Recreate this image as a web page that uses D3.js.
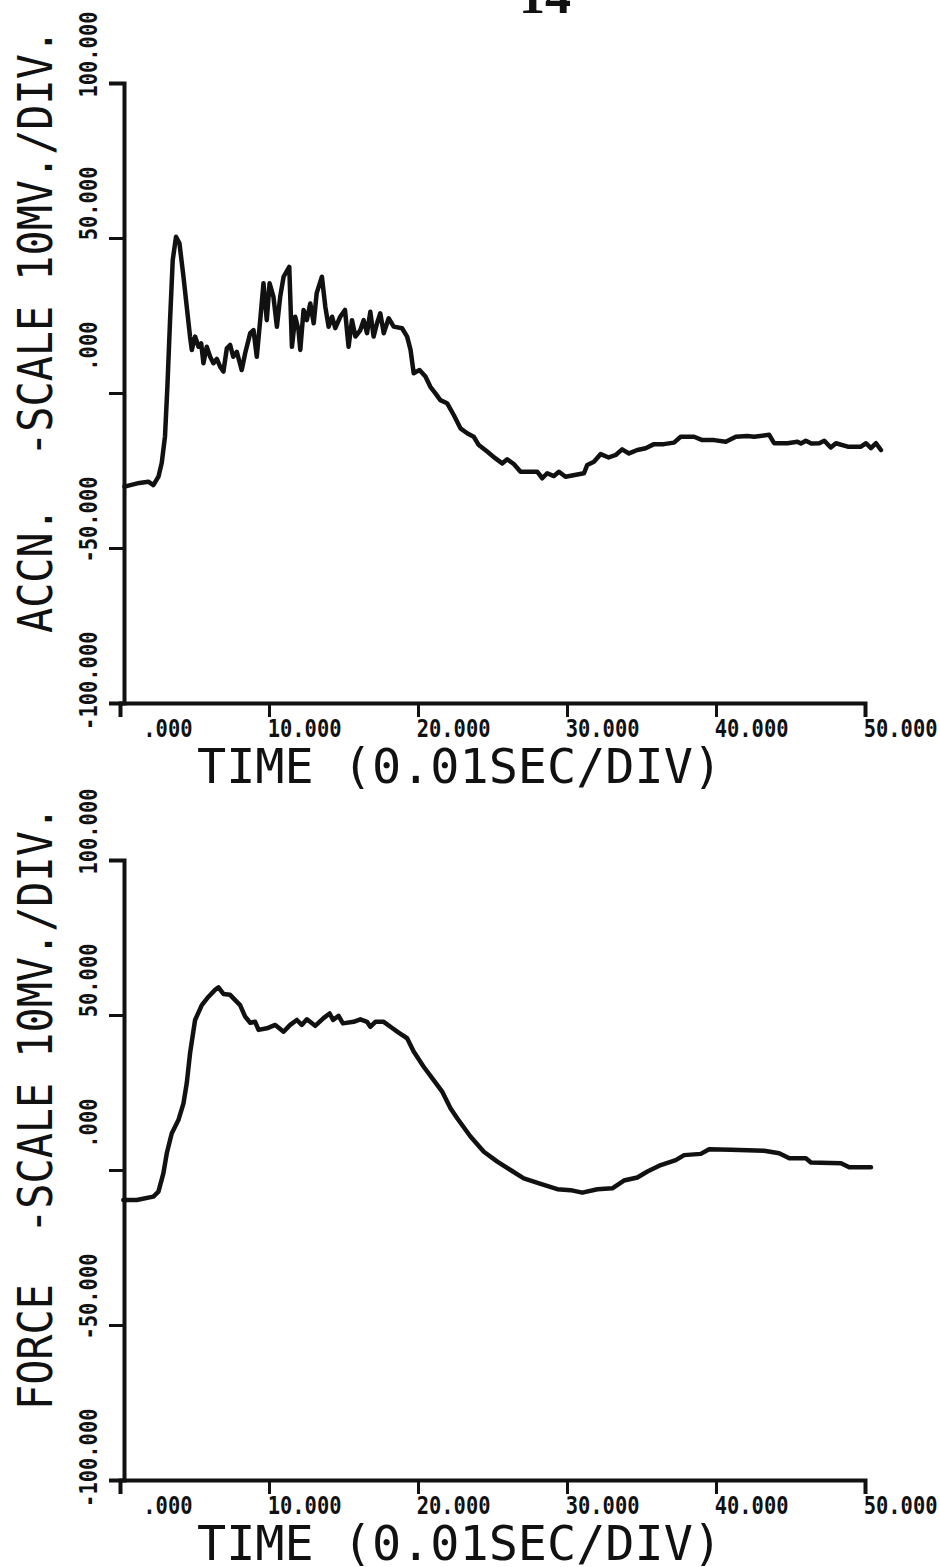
<!DOCTYPE html>
<html>
<head>
<meta charset="utf-8">
<script src="https://cdn.jsdelivr.net/npm/d3@7"></script>
<style>
  body { margin: 0; background: #fff; }
  svg { display: block; }
</style>
</head>
<body>
<div id="chart"><svg></svg></div>
<script>
// time axis (0.01 sec / div) and value axis (10 mV / div)
var timeTicks = [0, 10, 20, 30, 40, 50];
var timeLabels = [".000", "10.000", "20.000", "30.000", "40.000", "50.000"];
var valueTicks = [-100, -50, 0, 50, 100];
var valueLabels = ["-100.000", "-50.000", ".000", "50.000", "100.000"];

// ACCN. trace
var accnTime = [0.3, 1.3, 1.9, 2.24, 2.58, 2.8, 3.02, 3.18, 3.36, 3.54, 3.76, 3.99, 4.26, 4.48, 4.7, 4.82,
  5.04, 5.27, 5.45, 5.6, 5.82, 6.05, 6.27, 6.5, 6.72, 6.94, 7.17, 7.39, 7.6, 7.84, 8.17, 8.4, 8.74, 8.96,
  9.18, 9.41, 9.63, 9.85, 10.04, 10.3, 10.53, 10.75, 10.98, 11.36, 11.54, 11.76, 11.98, 12.1, 12.32, 12.54,
  12.77, 13.0, 13.2, 13.55, 13.78, 14.0, 14.23, 14.45, 14.78, 15.1, 15.34, 15.57, 15.8, 16.13, 16.35, 16.58,
  16.8, 17.02, 17.25, 17.47, 17.7, 18.03, 18.37, 18.93, 19.27, 19.5, 19.71, 20.1, 20.5, 20.83, 21.17, 21.5,
  21.95, 22.4, 22.85, 23.3, 23.74, 24.08, 24.64, 25.2, 25.65, 25.99, 26.43, 26.88, 28.0, 28.34, 28.67, 29.12,
  29.46, 29.9, 31.14, 31.36, 31.81, 32.26, 32.8, 33.27, 33.7, 34.16, 34.72, 35.28, 35.84, 36.5, 37.18, 37.63,
  38.53, 39.08, 39.87, 40.66, 41.33, 42.1, 42.56, 43.57, 43.9, 44.8, 45.47, 45.7, 46.03, 46.4, 46.93, 47.27,
  47.7, 48.05, 48.84, 49.73, 50.07, 50.4, 50.74, 51.07];
var accnValue = [-30.2, -29, -28.6, -29.7, -27, -22.6, -14, 2, 23.5, 42.9, 50.4, 48.3, 37.5, 27.8, 18.2, 13.9,
  18.2, 14.9, 16, 9.6, 14.9, 11.7, 9.6, 11, 8.5, 6.9, 14.4, 15.5, 11.7, 13.3, 7.4, 12.8, 19.3, 20.3,
  11.7, 23.5, 35.4, 23.5, 35.4, 31, 21.4, 31, 37.5, 40.7, 14.9, 24.6, 20.3, 13.9, 26.8, 23.5,
  28.9, 22.5, 32.2, 37.5, 27.8, 21.4, 24.6, 20.9, 24.6, 26.8, 14.9, 23.5, 18.2, 20.3, 23.5, 19.3,
  26.2, 18.2, 22.5, 25.7, 19.3, 24.1, 21.4, 20.9, 18.2, 13.9, 6.4, 7.4, 5.3, 2, -0.1, -2.3,
  -3.3, -7.1, -11.4, -13, -14.1, -16.8, -18.9, -21.1, -22.7, -21.4, -22.9, -25.4, -25.4, -27.5, -25.9, -26.8,
  -25.4, -27, -25.9, -23.2, -22.2, -19.7, -20.8, -20, -18.2, -19.5, -18.4, -17.8, -16.5, -16.5, -16, -14.1,
  -14.1, -15.2, -15.2, -15.7, -14.1, -13.9, -14.1, -13.5, -16.2, -16.2, -15.7, -16.3, -15.4, -16.3, -16.2, -15.4,
  -17.6, -16.2, -17.3, -17.3, -16.2, -17.8, -16.2, -18.4];

// FORCE trace
var forceTime = [0.22, 1.12, 2.24, 2.58, 2.91, 3.14, 3.47, 3.92, 4.26, 4.48, 4.7, 5.04, 5.49, 5.94, 6.38, 6.61,
  6.94, 7.39, 7.73, 8.06, 8.4, 8.74, 9.07, 9.3, 9.86, 10.42, 10.98, 11.42, 11.87, 12.2, 12.54, 13.1,
  13.66, 14.07, 14.3, 14.67, 14.96, 15.68, 16.13, 16.58, 16.8, 17.14, 17.7, 18.15, 18.7, 19.27, 19.71, 20.38,
  21.05, 21.62, 22.18, 22.63, 23.52, 24.42, 25.32, 26.21, 27.1, 28.23, 29.35, 30.24, 31.03, 32.04, 33.04, 33.82,
  34.72, 35.4, 36.29, 37.3, 37.86, 38.98, 39.54, 41.0, 43.23, 44.24, 44.92, 46.03, 46.37, 48.39, 48.94, 50.4];
var forceValue = [-9.7, -9.7, -8.6, -7, -1.1, 5.4, 11.8, 16.1, 21.5, 28, 37.6, 48.4, 53.2, 55.9, 58.1, 58.9,
  56.8, 56.5, 54.8, 53.2, 49.5, 47.5, 47.8, 45.2, 45.7, 46.8, 44.6, 46.8, 48.4, 46.8, 48.6, 46.5,
  49, 50.5, 48.4, 49.7, 47.3, 47.8, 48.6, 47.8, 46.2, 47.8, 47.8, 46.2, 44.3, 42.5, 38.2, 33.3,
  29, 25.3, 19.9, 16.7, 10.8, 5.9, 2.7, 0, -2.7, -4.5, -6.2, -6.5, -7.3, -6.2, -5.9, -3.4,
  -2.4, -0.5, 1.6, 3.2, 4.8, 5.2, 6.7, 6.5, 6.2, 5.4, 3.8, 3.8, 2.4, 2.2, 0.9, 0.9];

var width = 940;
var height = 1567;
var ink = "#111";
var labelFont = "'DejaVu Sans Mono', 'Liberation Mono', monospace";

var svg = d3.select("#chart").select("svg")
  .attr("width", width).attr("height", height)
  .style("background", "#fff");

// page number, cut off at the top of the scan
svg.append("text")
  .attr("x", 545).attr("y", 13)
  .attr("text-anchor", "middle")
  .attr("font-family", "'Liberation Serif', 'DejaVu Serif', serif")
  .attr("font-weight", "bold")
  .attr("font-size", 52)
  .attr("fill", ink)
  .text("14");

var x = d3.scaleLinear().domain([0, 50]).range([120, 865]);

function panel(top, yTitle, times, values) {
  var y = d3.scaleLinear().domain([-100, 100]).range([top + 620, top]);
  var g = svg.append("g");
  var axisX = 124;

  var xAxis = g.append("g")
    .attr("transform", "translate(0," + y(-100) + ")")
    .call(d3.axisBottom(x).tickValues(timeTicks).tickSizeOuter(0).tickSize(14)
      .tickFormat(function (d, i) { return timeLabels[i]; }));
  xAxis.select(".domain").attr("stroke", ink).attr("stroke-width", 4);
  xAxis.selectAll(".tick line").attr("stroke", ink).attr("stroke-width", 3)
    .filter(function (d) { return d === 0; }).remove();
  xAxis.selectAll(".tick text")
    .attr("x", 72).attr("y", 34).attr("dy", null)
    .attr("text-anchor", "end")
    .attr("font-family", labelFont).attr("font-weight", "bold").attr("font-size", 25)
    .attr("fill", ink)
    .attr("textLength", function (d, i) { return timeLabels[i].length * 12.3; })
    .attr("lengthAdjust", "spacingAndGlyphs");

  var yAxis = g.append("g")
    .attr("transform", "translate(" + axisX + ",0)")
    .call(d3.axisLeft(y).tickValues(valueTicks).tickSizeOuter(0).tickSize(15)
      .tickFormat(function (d, i) { return valueLabels[i]; }));
  yAxis.select(".domain").attr("stroke", ink).attr("stroke-width", 4);
  yAxis.selectAll(".tick line").attr("stroke", ink).attr("stroke-width", 3);
  yAxis.selectAll(".tick text")
    .attr("x", null).attr("dy", null)
    .attr("transform", "translate(-27,-72) rotate(-90)")
    .attr("text-anchor", "end")
    .attr("font-family", labelFont).attr("font-weight", "bold").attr("font-size", 25)
    .attr("fill", ink)
    .attr("textLength", function (d, i) { return valueLabels[i].length * 12.3; })
    .attr("lengthAdjust", "spacingAndGlyphs");

  g.append("text")
    .attr("x", 197).attr("y", y(-100) + 80)
    .attr("font-family", labelFont).attr("font-size", 48)
    .attr("fill", ink)
    .attr("textLength", 525).attr("lengthAdjust", "spacingAndGlyphs")
    .text("TIME (0.01SEC/DIV)");

  g.append("text")
    .attr("transform", "translate(52," + (top + 550) + ") rotate(-90)")
    .attr("font-family", labelFont).attr("font-size", 48)
    .attr("fill", ink)
    .attr("textLength", 604).attr("lengthAdjust", "spacingAndGlyphs")
    .style("white-space", "pre")
    .text(yTitle);

  var line = d3.line()
    .x(function (d) { return x(d[0]); })
    .y(function (d) { return y(d[1]); });

  g.append("path")
    .datum(d3.zip(times, values))
    .attr("fill", "none")
    .attr("stroke", ink)
    .attr("stroke-width", 4.5)
    .attr("stroke-linejoin", "round")
    .attr("stroke-linecap", "round")
    .attr("d", line);
}

panel(83, "ACCN.  -SCALE 10MV./DIV.", accnTime, accnValue);
panel(860, "FORCE  -SCALE 10MV./DIV.", forceTime, forceValue);
</script>
</body>
</html>
